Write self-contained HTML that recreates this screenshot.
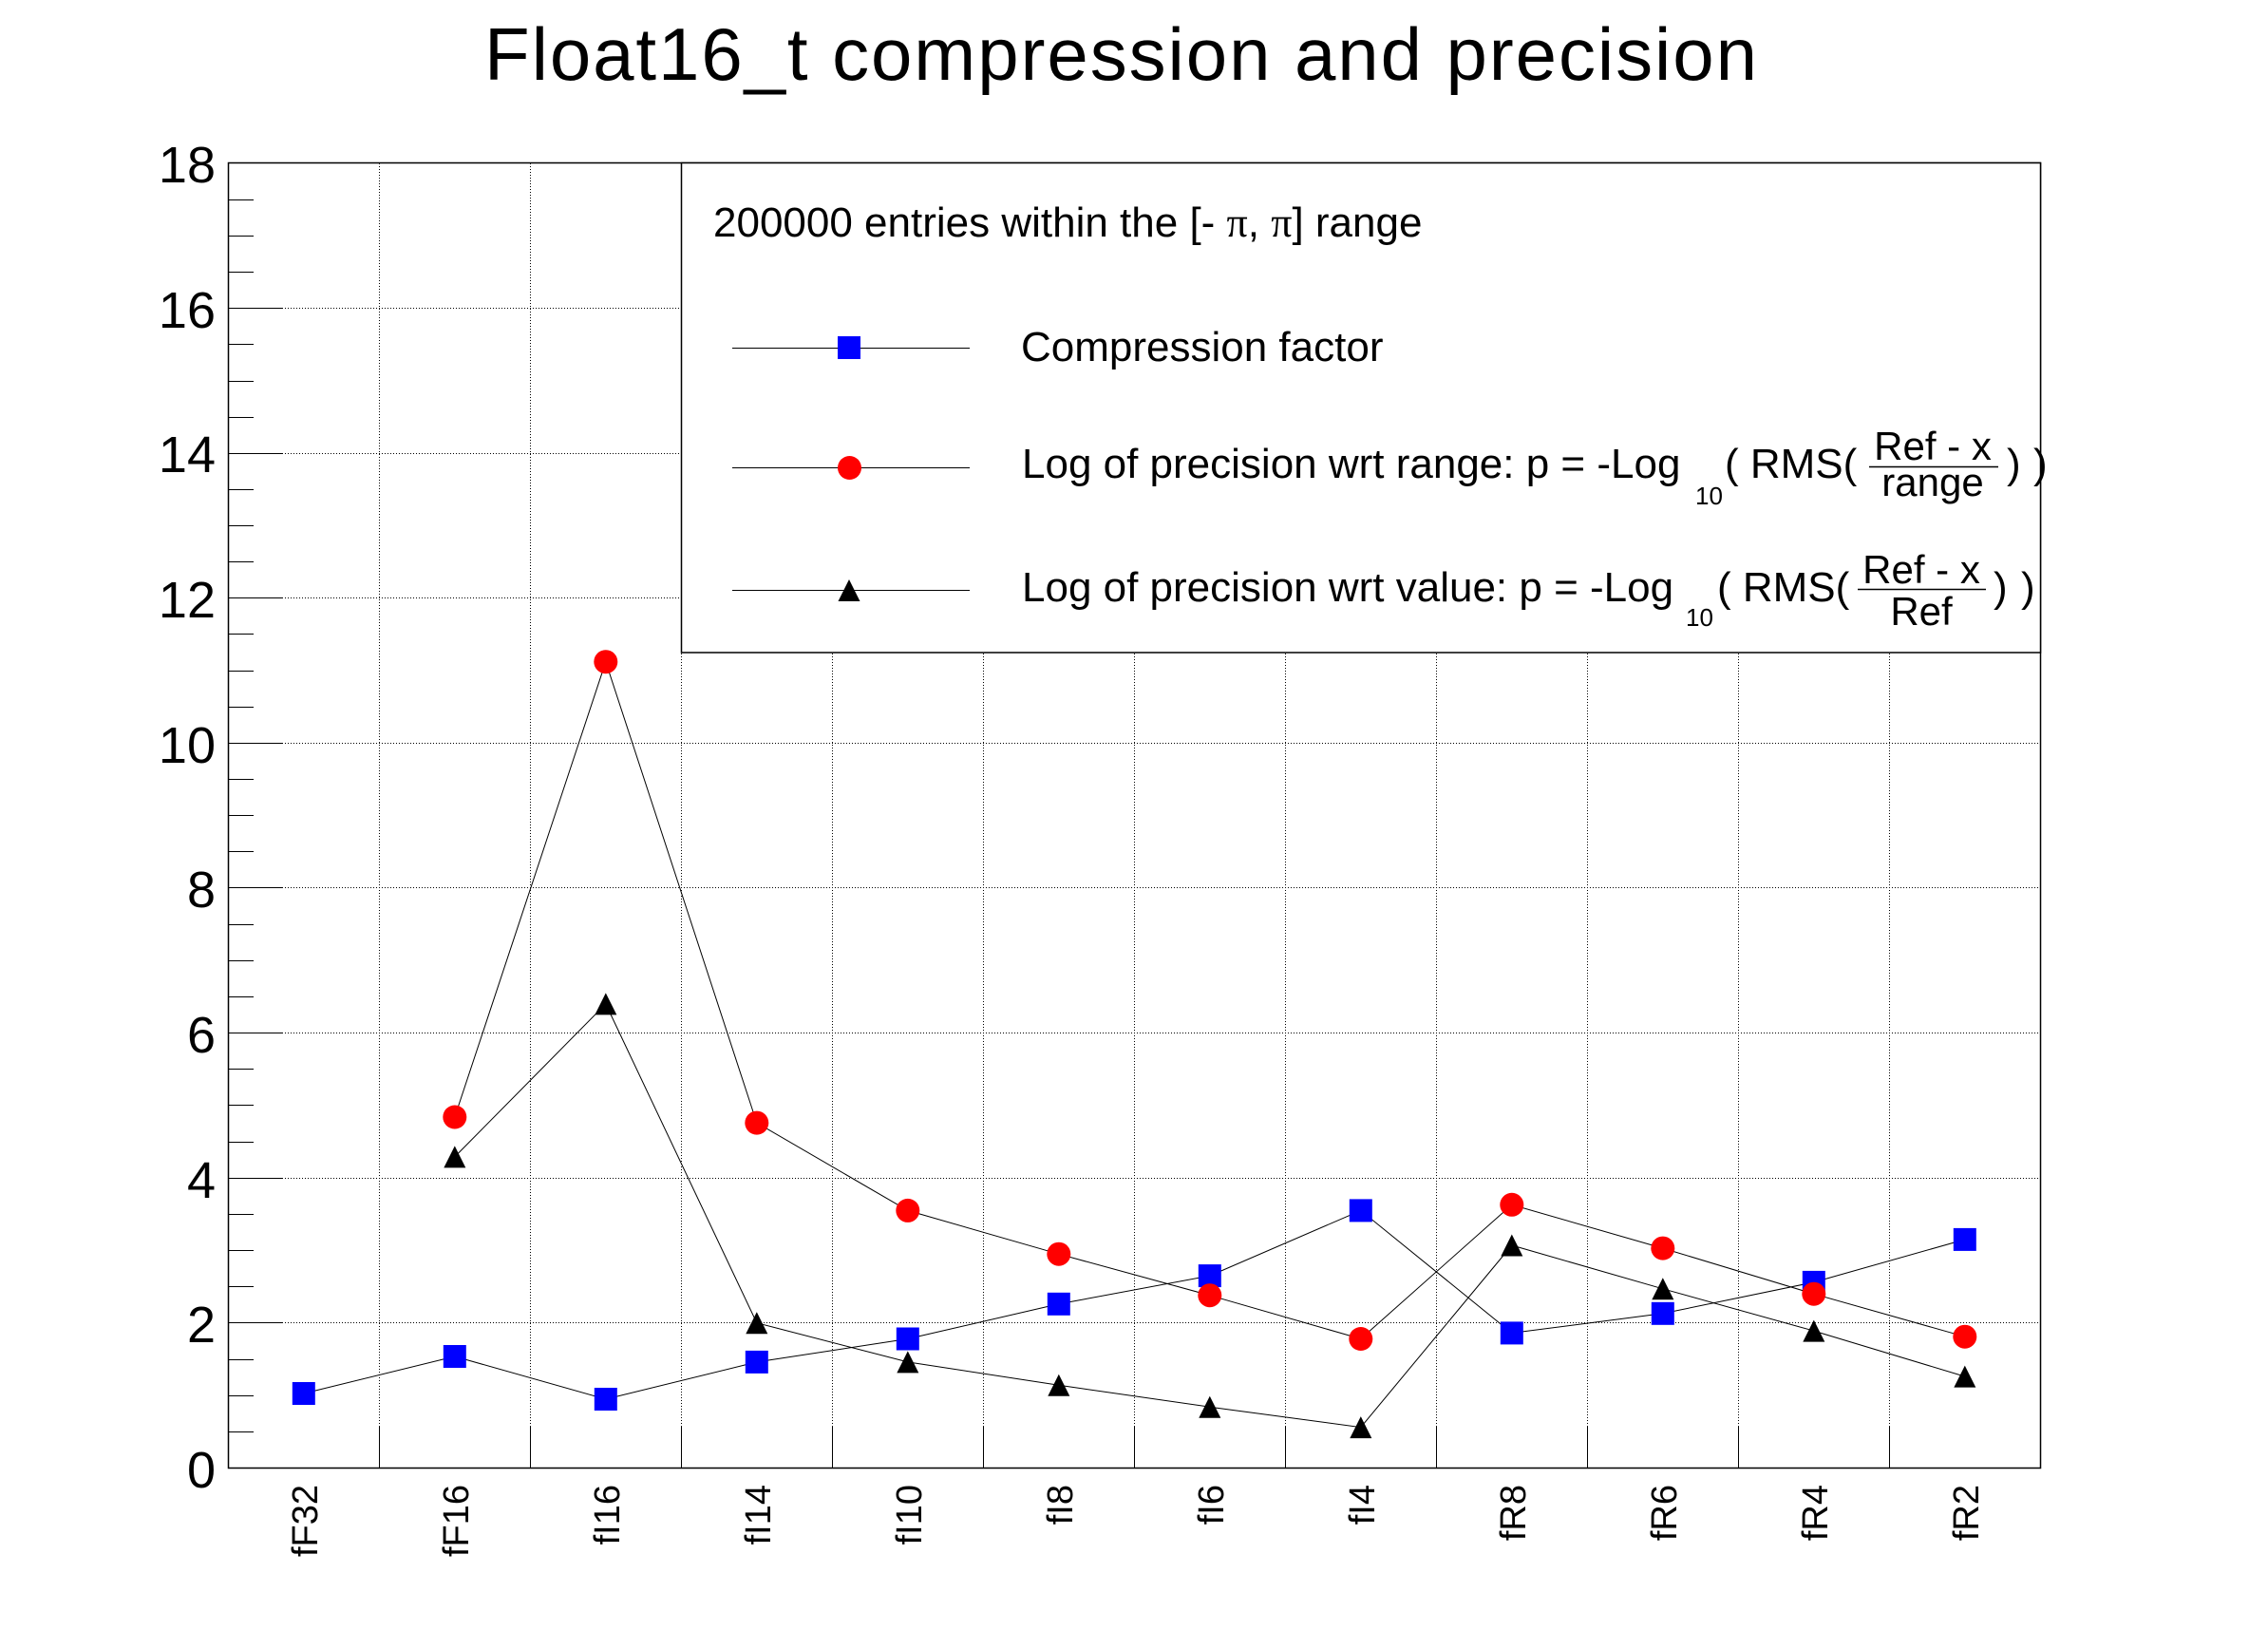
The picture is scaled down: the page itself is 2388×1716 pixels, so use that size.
<!DOCTYPE html>
<html>
<head>
<meta charset="utf-8">
<style>
html,body{margin:0;padding:0;background:#fff;}
svg{display:block;}
text{font-family:"Liberation Sans",Arial,Helvetica,sans-serif;fill:#000;}
</style>
</head>
<body>
<svg width="2388" height="1716" viewBox="0 0 2388 1716" xmlns="http://www.w3.org/2000/svg">
<rect x="0" y="0" width="2388" height="1716" fill="#fff"/>

<!-- Title -->
<text x="510" y="84" font-size="78" textLength="1340" lengthAdjust="spacing">Float16_t compression and precision</text>

<!-- Grid (dotted) -->
<g stroke="#000" stroke-width="1" stroke-dasharray="1 2" shape-rendering="crispEdges" fill="none">
  <line x1="240" y1="1392.5" x2="2148" y2="1392.5"/>
  <line x1="240" y1="1240.5" x2="2148" y2="1240.5"/>
  <line x1="240" y1="1087.5" x2="2148" y2="1087.5"/>
  <line x1="240" y1="934.5" x2="2148" y2="934.5"/>
  <line x1="240" y1="782.5" x2="2148" y2="782.5"/>
  <line x1="240" y1="629.5" x2="2148" y2="629.5"/>
  <line x1="240" y1="477.5" x2="2148" y2="477.5"/>
  <line x1="240" y1="324.5" x2="2148" y2="324.5"/>
  <line x1="399.5" y1="172" x2="399.5" y2="1545"/>
  <line x1="558.5" y1="172" x2="558.5" y2="1545"/>
  <line x1="717.5" y1="172" x2="717.5" y2="1545"/>
  <line x1="876.5" y1="172" x2="876.5" y2="1545"/>
  <line x1="1035.5" y1="172" x2="1035.5" y2="1545"/>
  <line x1="1194.5" y1="172" x2="1194.5" y2="1545"/>
  <line x1="1353.5" y1="172" x2="1353.5" y2="1545"/>
  <line x1="1512.5" y1="172" x2="1512.5" y2="1545"/>
  <line x1="1671.5" y1="172" x2="1671.5" y2="1545"/>
  <line x1="1830.5" y1="172" x2="1830.5" y2="1545"/>
  <line x1="1989.5" y1="172" x2="1989.5" y2="1545"/>
</g>

<!-- Y ticks -->
<g stroke="#000" stroke-width="1.3" shape-rendering="crispEdges">
  <line x1="240" y1="1545.5" x2="297" y2="1545.5"/>
  <line x1="240" y1="1392.5" x2="297" y2="1392.5"/>
  <line x1="240" y1="1240.5" x2="297" y2="1240.5"/>
  <line x1="240" y1="1087.5" x2="297" y2="1087.5"/>
  <line x1="240" y1="934.5" x2="297" y2="934.5"/>
  <line x1="240" y1="782.5" x2="297" y2="782.5"/>
  <line x1="240" y1="629.5" x2="297" y2="629.5"/>
  <line x1="240" y1="477.5" x2="297" y2="477.5"/>
  <line x1="240" y1="324.5" x2="297" y2="324.5"/>
  <line x1="240" y1="1507.5" x2="267" y2="1507.5"/>
  <line x1="240" y1="1469.5" x2="267" y2="1469.5"/>
  <line x1="240" y1="1431.5" x2="267" y2="1431.5"/>
  <line x1="240" y1="1354.5" x2="267" y2="1354.5"/>
  <line x1="240" y1="1316.5" x2="267" y2="1316.5"/>
  <line x1="240" y1="1278.5" x2="267" y2="1278.5"/>
  <line x1="240" y1="1202.5" x2="267" y2="1202.5"/>
  <line x1="240" y1="1163.5" x2="267" y2="1163.5"/>
  <line x1="240" y1="1125.5" x2="267" y2="1125.5"/>
  <line x1="240" y1="1049.5" x2="267" y2="1049.5"/>
  <line x1="240" y1="1011.5" x2="267" y2="1011.5"/>
  <line x1="240" y1="973.5" x2="267" y2="973.5"/>
  <line x1="240" y1="896.5" x2="267" y2="896.5"/>
  <line x1="240" y1="858.5" x2="267" y2="858.5"/>
  <line x1="240" y1="820.5" x2="267" y2="820.5"/>
  <line x1="240" y1="744.5" x2="267" y2="744.5"/>
  <line x1="240" y1="706.5" x2="267" y2="706.5"/>
  <line x1="240" y1="667.5" x2="267" y2="667.5"/>
  <line x1="240" y1="591.5" x2="267" y2="591.5"/>
  <line x1="240" y1="553.5" x2="267" y2="553.5"/>
  <line x1="240" y1="515.5" x2="267" y2="515.5"/>
  <line x1="240" y1="439.5" x2="267" y2="439.5"/>
  <line x1="240" y1="401.5" x2="267" y2="401.5"/>
  <line x1="240" y1="362.5" x2="267" y2="362.5"/>
  <line x1="240" y1="286.5" x2="267" y2="286.5"/>
  <line x1="240" y1="248.5" x2="267" y2="248.5"/>
  <line x1="240" y1="210.5" x2="267" y2="210.5"/>
  <!-- X ticks -->
  <line x1="399.5" y1="1502" x2="399.5" y2="1545"/>
  <line x1="558.5" y1="1502" x2="558.5" y2="1545"/>
  <line x1="717.5" y1="1502" x2="717.5" y2="1545"/>
  <line x1="876.5" y1="1502" x2="876.5" y2="1545"/>
  <line x1="1035.5" y1="1502" x2="1035.5" y2="1545"/>
  <line x1="1194.5" y1="1502" x2="1194.5" y2="1545"/>
  <line x1="1353.5" y1="1502" x2="1353.5" y2="1545"/>
  <line x1="1512.5" y1="1502" x2="1512.5" y2="1545"/>
  <line x1="1671.5" y1="1502" x2="1671.5" y2="1545"/>
  <line x1="1830.5" y1="1502" x2="1830.5" y2="1545"/>
  <line x1="1989.5" y1="1502" x2="1989.5" y2="1545"/>
</g>

<!-- Y labels -->
<g font-size="54" text-anchor="end">
  <text x="227" y="1566">0</text>
  <text x="227" y="1413">2</text>
  <text x="227" y="1261">4</text>
  <text x="227" y="1108">6</text>
  <text x="227" y="955">8</text>
  <text x="227" y="803">10</text>
  <text x="227" y="650">12</text>
  <text x="227" y="497">14</text>
  <text x="227" y="345">16</text>
  <text x="227" y="192">18</text>
</g>

<!-- X labels -->
<g font-size="38" text-anchor="end">
  <text transform="translate(334,1563) rotate(-90)">fF32</text>
  <text transform="translate(493,1563) rotate(-90)">fF16</text>
  <text transform="translate(652,1563) rotate(-90)">fI16</text>
  <text transform="translate(811,1563) rotate(-90)">fI14</text>
  <text transform="translate(970,1563) rotate(-90)">fI10</text>
  <text transform="translate(1129,1563) rotate(-90)">fI8</text>
  <text transform="translate(1288,1563) rotate(-90)">fI6</text>
  <text transform="translate(1447,1563) rotate(-90)">fI4</text>
  <text transform="translate(1606,1563) rotate(-90)">fR8</text>
  <text transform="translate(1765,1563) rotate(-90)">fR6</text>
  <text transform="translate(1924,1563) rotate(-90)">fR4</text>
  <text transform="translate(2083,1563) rotate(-90)">fR2</text>
</g>

<!-- Blue series -->
<polyline fill="none" stroke="#000" stroke-width="1" points="319.8,1467 478.8,1428 637.8,1473 796.8,1433.9 955.8,1409.5 1114.8,1372.8 1273.8,1343.1 1432.8,1274.4 1591.8,1403.4 1750.8,1382.8 1909.8,1349.9 2068.8,1304.9"/>
<g fill="#0000ff">
  <rect x="307.8" y="1455" width="24" height="24"/>
  <rect x="466.8" y="1416" width="24" height="24"/>
  <rect x="625.8" y="1461" width="24" height="24"/>
  <rect x="784.8" y="1421.9" width="24" height="24"/>
  <rect x="943.8" y="1397.5" width="24" height="24"/>
  <rect x="1102.8" y="1360.8" width="24" height="24"/>
  <rect x="1261.8" y="1331.1" width="24" height="24"/>
  <rect x="1420.8" y="1262.4" width="24" height="24"/>
  <rect x="1579.8" y="1391.4" width="24" height="24"/>
  <rect x="1738.8" y="1370.8" width="24" height="24"/>
  <rect x="1897.8" y="1337.9" width="24" height="24"/>
  <rect x="2056.8" y="1292.9" width="24" height="24"/>
</g>

<!-- Red series -->
<polyline fill="none" stroke="#000" stroke-width="1" points="478.8,1176 637.8,696.7 796.8,1182.1 955.8,1274.4 1114.8,1320.2 1273.8,1363.7 1432.8,1409.5 1591.8,1268.3 1750.8,1314.1 1909.8,1362.2 2068.8,1407.2"/>
<g fill="#ff0000">
  <circle cx="478.8" cy="1176" r="12.5"/>
  <circle cx="637.8" cy="696.7" r="12.5"/>
  <circle cx="796.8" cy="1182.1" r="12.5"/>
  <circle cx="955.8" cy="1274.4" r="12.5"/>
  <circle cx="1114.8" cy="1320.2" r="12.5"/>
  <circle cx="1273.8" cy="1363.7" r="12.5"/>
  <circle cx="1432.8" cy="1409.5" r="12.5"/>
  <circle cx="1591.8" cy="1268.3" r="12.5"/>
  <circle cx="1750.8" cy="1314.1" r="12.5"/>
  <circle cx="1909.8" cy="1362.2" r="12.5"/>
  <circle cx="2068.8" cy="1407.2" r="12.5"/>
</g>

<!-- Black triangle series -->
<polyline fill="none" stroke="#000" stroke-width="1" points="478.8,1217.9 637.8,1056.9 796.8,1392.7 955.8,1433.9 1114.8,1458.3 1273.8,1481.2 1432.8,1502.6 1591.8,1311 1750.8,1356.8 1909.8,1401.1 2068.8,1449.1"/>
<g fill="#000">
  <polygon points="478.8,1206.4 467.3,1229.4 490.3,1229.4"/>
  <polygon points="637.8,1045.4 626.3,1068.4 649.3,1068.4"/>
  <polygon points="796.8,1381.2 785.3,1404.2 808.3,1404.2"/>
  <polygon points="955.8,1422.4 944.3,1445.4 967.3,1445.4"/>
  <polygon points="1114.8,1446.8 1103.3,1469.8 1126.3,1469.8"/>
  <polygon points="1273.8,1469.7 1262.3,1492.7 1285.3,1492.7"/>
  <polygon points="1432.8,1491.1 1421.3,1514.1 1444.3,1514.1"/>
  <polygon points="1591.8,1299.5 1580.3,1322.5 1603.3,1322.5"/>
  <polygon points="1750.8,1345.3 1739.3,1368.3 1762.3,1368.3"/>
  <polygon points="1909.8,1389.6 1898.3,1412.6 1921.3,1412.6"/>
  <polygon points="2068.8,1437.6 2057.3,1460.6 2080.3,1460.6"/>
</g>

<!-- Frame -->
<rect x="240.5" y="171.5" width="1908" height="1374" fill="none" stroke="#000" stroke-width="1.5"/>

<!-- Legend -->
<rect x="717.5" y="171.5" width="1431" height="515.5" fill="#fff" stroke="#000" stroke-width="1.5"/>
<text x="751" y="249" font-size="44">200000 entries within the [- <tspan font-family="'Liberation Serif',serif">π</tspan>, <tspan font-family="'Liberation Serif',serif">π</tspan>] range</text>

<g stroke="#000" stroke-width="1">
  <line x1="771" y1="366.5" x2="1021" y2="366.5"/>
  <line x1="771" y1="492.5" x2="1021" y2="492.5"/>
  <line x1="771" y1="621.5" x2="1021" y2="621.5"/>
</g>
<rect x="882" y="354" width="24" height="24" fill="#0000ff"/>
<circle cx="894.5" cy="492.5" r="12.5" fill="#ff0000"/>
<polygon points="894,610 882.5,633 905.5,633" fill="#000"/>

<text x="1075" y="380" font-size="44">Compression factor</text>

<!-- Row 2 -->
<text x="1076" y="503" font-size="44">Log of precision wrt range: p = -Log</text>
<text x="1785" y="531" font-size="26">10</text>
<text x="1816" y="503" font-size="44">( RMS(</text>
<text x="2035" y="484" font-size="42" text-anchor="middle">Ref - x</text>
<line x1="1968" y1="491.5" x2="2104" y2="491.5" stroke="#000" stroke-width="1.5"/>
<text x="2035" y="522" font-size="42" text-anchor="middle">range</text>
<text x="2113" y="503" font-size="44">)</text>
<text x="2141" y="503" font-size="44">)</text>

<!-- Row 3 -->
<text x="1076" y="633" font-size="44">Log of precision wrt value: p = -Log</text>
<text x="1775" y="659" font-size="26">10</text>
<text x="1808" y="633" font-size="44">( RMS(</text>
<text x="2023" y="614" font-size="42" text-anchor="middle">Ref - x</text>
<line x1="1956" y1="620.5" x2="2091" y2="620.5" stroke="#000" stroke-width="1.5"/>
<text x="2023" y="658" font-size="42" text-anchor="middle">Ref</text>
<text x="2099" y="633" font-size="44">)</text>
<text x="2128" y="633" font-size="44">)</text>

</svg>
</body>
</html>
